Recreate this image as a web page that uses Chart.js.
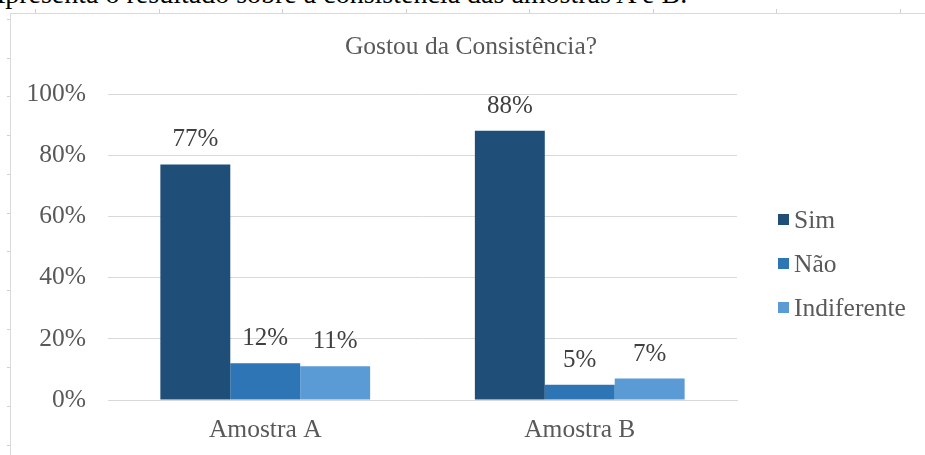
<!DOCTYPE html>
<html>
<head>
<meta charset="utf-8">
<script src="https://cdn.jsdelivr.net/npm/chart.js@4.4.0/dist/chart.umd.min.js"></script>
<style>
  body { margin: 0; background: #fff; overflow: hidden; width: 925px; height: 455px; position: relative; }
  #intro { position: absolute; left: -15px; top: -20px; font-family: 'Liberation Serif', serif; font-size: 28px; line-height: 28px; color: #000; white-space: nowrap; }
  #box { position: absolute; left: 10px; top: 13px; width: 930px; height: 460px; border: 1px solid #d9d9d9; }
  #wrap { position: absolute; left: 11px; top: 14px; width: 914px; height: 441px; }
  .tk { position: absolute; background: #d0d0d0; }
</style>
</head>
<body>
<div id="intro">Apresenta o resultado sobre a consistência das amostras A e B.</div>
<div id="box"></div>
<div id="regua"></div>
<div id="wrap"><canvas id="grafico"></canvas></div>
<script>
  const categorias = ["Amostra A", "Amostra B"];
  const nomesSeries = ["Sim", "Não", "Indiferente"];
  const sim = [77, 88];
  const nao = [12, 5];
  const indiferente = [11, 7];
  const cores = ["#1F4E79", "#2E75B6", "#5B9BD5"];
  const titulo = "Gostou da Consistência?";
  const familia = "'Liberation Serif', 'Times New Roman', Times, serif";
  const tamanho = 25.5;

  // marquinhas cinza da borda
  const regua = document.getElementById('regua');
  for (let x = 35; x < 925; x += 123.5) {
    const d = document.createElement('div');
    d.className = 'tk';
    d.style.cssText = 'left:' + Math.round(x) + 'px;top:9px;width:1px;height:4px;';
    regua.appendChild(d);
  }
  for (let y = 19; y < 455; y += 38.7) {
    const d = document.createElement('div');
    d.className = 'tk';
    d.style.cssText = 'left:7px;top:' + Math.round(y) + 'px;width:3px;height:1px;';
    regua.appendChild(d);
  }

  const rotulos = {
    id: 'rotulos',
    afterDatasetsDraw(chart) {
      const ctx = chart.ctx;
      ctx.save();
      ctx.font = '25px ' + familia;
      ctx.fillStyle = '#404040';
      ctx.textAlign = 'center';
      ctx.textBaseline = 'alphabetic';
      chart.data.datasets.forEach((ds, i) => {
        chart.getDatasetMeta(i).data.forEach((bar, j) => {
          ctx.fillText(ds.data[j] + '%', bar.x, bar.y - 18);
        });
      });
      ctx.restore();
    },
    afterDraw(chart) {
      const ctx = chart.ctx;
      const area = chart.chartArea;
      ctx.save();
      ctx.font = tamanho + 'px ' + familia;
      ctx.fillStyle = '#595959';
      ctx.textAlign = 'center';
      ctx.textBaseline = 'alphabetic';
      ctx.fillText(titulo, 460, 40);
      ctx.textAlign = 'left';
      ctx.textBaseline = 'middle';
      chart.data.datasets.forEach((ds, i) => {
        const y = 206 + i * 44;
        ctx.fillStyle = ds.backgroundColor;
        ctx.fillRect(area.right + 41, y - 6, 11, 11);
        ctx.fillStyle = '#595959';
        ctx.fillText(ds.label, area.right + 57, y + 1);
      });
      ctx.restore();
    }
  };

  new Chart(document.getElementById('grafico'), {
    type: 'bar',
    data: {
      labels: categorias,
      datasets: [
        { label: nomesSeries[0], data: sim, backgroundColor: cores[0] },
        { label: nomesSeries[1], data: nao, backgroundColor: cores[1] },
        { label: nomesSeries[2], data: indiferente, backgroundColor: cores[2] }
      ]
    },
    options: {
      responsive: true,
      maintainAspectRatio: false,
      animation: false,
      layout: { padding: { top: 80, right: 188, left: 0, bottom: 0 } },
      datasets: { bar: { categoryPercentage: 0.667, barPercentage: 1 } },
      plugins: {
        legend: { display: false },
        title: { display: false },
        tooltip: { enabled: false }
      },
      scales: {
        x: {
          grid: { display: false, drawTicks: false },
          border: { color: '#d9d9d9' },
          ticks: { font: { family: familia, size: tamanho }, color: '#595959', padding: 15 },
          afterFit(s) { s.height = 55; }
        },
        y: {
          min: 0, max: 100,
          grid: { color: '#d9d9d9', drawTicks: false },
          border: { display: false },
          ticks: {
            stepSize: 20,
            padding: 22,
            font: { family: familia, size: tamanho },
            color: '#595959',
            callback: v => v + '%'
          },
          afterFit(s) { s.width = 97; }
        }
      }
    },
    plugins: [rotulos]
  });
</script>
</body>
</html>
